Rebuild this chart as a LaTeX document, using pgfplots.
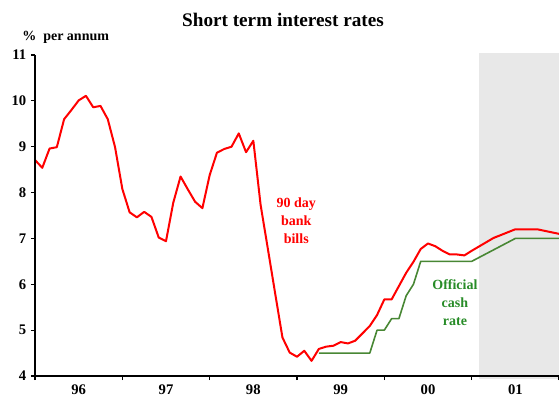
\documentclass[border=0pt]{standalone}
\usepackage{fontspec}
\setmainfont{Liberation Serif}
\usepackage{pgfplots}
\pgfplotsset{compat=1.18}
\definecolor{redl}{RGB}{255,0,0}
\definecolor{greenl}{RGB}{72,135,52}
\definecolor{greent}{RGB}{40,140,40}
\definecolor{bggray}{RGB}{232,232,232}
\begin{document}
\begin{tikzpicture}[x=1pt,y=1pt]
\useasboundingbox (0,0) rectangle (419.25,302.25);
\node[font=\fontsize{14.4}{16}\selectfont\bfseries] at (212.25,287.25) {Short term interest rates};
\node[anchor=west,font=\fontsize{10.5}{12}\selectfont\bfseries,inner sep=0pt] at (16.5,274.5) {\%~~per annum};
\begin{axis}[at={(26.25pt,20.25pt)}, anchor=south west, scale only axis,
  width=393pt, height=240.75pt,
  xmin=0, xmax=72, ymin=4, ymax=11,
  axis x line=bottom, axis y line=left, axis line style={-, black, line width=0.8pt},
  axis on top, clip=false,
  tick align=outside, major tick length=3pt, tick style={black, line width=0.8pt},
  xtick={0,12,...,72}, xticklabels={96,97,98,99,00,01}, x tick label as interval,
  ytick={4,...,11},
  ticklabel style={font=\fontsize{11}{13}\selectfont\bfseries},
  /pgf/number format/assume math mode=true,
]
\fill[fill=bggray, draw=none] (axis cs:61,3.93) rectangle (axis cs:72,11.04);
\addplot[redl, line width=1.5pt, line join=round, mark=none] coordinates {
(0,8.71) (1,8.54) (2,8.96) (3,8.99) (4,9.60) (5,9.80) (6,10.01) (7,10.11) (8,9.86) (9,9.89)
(10,9.60) (11,8.99) (12,8.08) (13,7.57) (14,7.46) (15,7.58) (16,7.47) (17,7.02) (18,6.94) (19,7.78)
(20,8.35) (21,8.07) (22,7.80) (23,7.66) (24,8.38) (25,8.87) (26,8.95) (27,9.00) (28,9.29) (29,8.88)
(30,9.13) (31,7.73) (32,6.77) (33,5.80) (34,4.84) (35,4.51) (36,4.42) (37,4.55) (38,4.33) (39,4.59)
(40,4.64) (41,4.66) (42,4.74) (43,4.71) (44,4.77) (45,4.93) (46,5.09) (47,5.33) (48,5.67) (49,5.67)
(50,5.96) (51,6.25) (52,6.49) (53,6.77) (54,6.89) (55,6.83) (56,6.73) (57,6.65) (58,6.65) (59,6.63)
(60,6.73) (63,7.01) (66,7.20) (69,7.20) (72,7.10)
};
\addplot[greenl, line width=1.2pt, line join=round, mark=none] coordinates {
(39,4.5) (46,4.5) (47,5.0) (48,5.0) (49,5.25) (50,5.25) (51,5.75) (52,6.0) (53,6.5) (60,6.5) (66,7.0) (72,7.0)
};
\node[text=redl, align=center, font=\fontsize{10.5}{13.5}\selectfont\bfseries] at (axis cs:35.9,7.38) {90 day\\bank\\bills};
\node[text=greent, align=center, font=\fontsize{10.5}{13.5}\selectfont\bfseries] at (axis cs:57.7,5.61) {Official\\cash\\rate};
\end{axis}
\end{tikzpicture}
\end{document}
